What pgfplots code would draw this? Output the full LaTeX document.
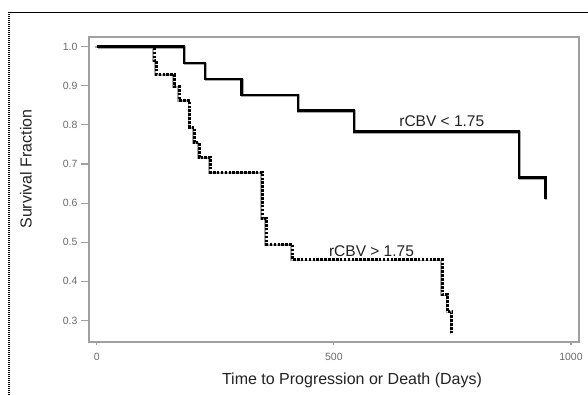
\documentclass[border=0pt]{standalone}
\usepackage{pgfplots}
\pgfplotsset{compat=1.18}
\usepackage{fontspec}
\setmainfont{Liberation Sans}
\definecolor{axgray}{HTML}{A0A0A0}
\definecolor{tickgray}{HTML}{6A6A6A}
\definecolor{labgray}{HTML}{222222}
\definecolor{shadow}{HTML}{A8A8A8}
\begin{document}
\begin{tikzpicture}
\begin{axis}[
  at={(89bp,53bp)}, anchor=south west,
  scale only axis, width=490bp, height=305bp,
  xmin=-16.2, xmax=1016.9, ymin=0.2448, ymax=1.0248,
  axis line style={axgray, line width=1.3bp},
  xtick={0,500,1000}, ytick={0.3,0.4,0.5,0.6,0.7,0.8,0.9,1.0},
  xtick pos=bottom, ytick pos=left, tick align=outside,
  major tick length=8bp,
  x tick style={/pgfplots/major tick length=3.5bp},
  tick style={axgray, line width=1.1bp},
  /pgf/number format/assume math mode=true,
  /pgf/number format/set thousands separator={},
  yticklabel style={/pgf/number format/fixed, /pgf/number format/precision=1, /pgf/number format/fixed zerofill, font=\fontsize{10.5bp}{12bp}\selectfont, text=tickgray},
  xticklabel style={font=\fontsize{10.5bp}{12bp}\selectfont, text=tickgray},
  clip=false,
]
% shadows
\addplot[const plot, shadow, line width=2.4bp, transform canvas={xshift=0.9bp,yshift=-0.9bp}] coordinates {
(0,1.0) (184,0.958) (228,0.917) (305.5,0.877) (424,0.837) (542,0.783) (890,0.665) (946,0.61)};
\addplot[const plot, shadow, line width=1.6bp, transform canvas={xshift=-1.3bp,yshift=-0.6bp}] coordinates {
(0,1.0) (121,0.965) (126,0.929) (164,0.898) (174,0.862) (196.6,0.794) (205.7,0.755) (216,0.717) (240,0.679) (349,0.561) (358,0.495) (413,0.455) (729,0.365) (740,0.322) (749,0.267)};
% curves
\addplot[const plot, black, line width=2.5bp] coordinates {
(0,1.0) (184,0.958) (228,0.917) (305.5,0.877) (424,0.837) (542,0.783) (890,0.665) (946,0.61)};
\addplot[const plot, black, line width=3bp, dash pattern=on 2.6bp off 1.3bp] coordinates {
(0,1.0) (121,0.965) (126,0.929) (164,0.898) (174,0.862) (196.6,0.794) (205.7,0.755) (216,0.717) (240,0.679) (349,0.561) (358,0.495) (413,0.455) (729,0.365) (740,0.322) (749,0.267)};
\node[anchor=base, font=\fontsize{15.5bp}{18bp}\selectfont, text=labgray, inner sep=0pt] at (axis cs:727.6,0.7954) {rCBV < 1.75};
\node[anchor=base, font=\fontsize{15.5bp}{18bp}\selectfont, text=labgray, inner sep=0pt] at (axis cs:579.4,0.463) {rCBV > 1.75};
\end{axis}
\node[anchor=base, font=\fontsize{16bp}{18bp}\selectfont, text=labgray, inner sep=0pt] at (352bp,10.7bp) {Time to Progression or Death (Days)};
\node[anchor=base, rotate=90, font=\fontsize{16bp}{18bp}\selectfont, text=labgray, inner sep=0pt] at (31.7bp,226bp) {Survival Fraction};
\draw[dash pattern=on 1.3bp off 0.7bp, line width=1.3bp] (9bp,0bp) -- (9bp,382.7bp) -- (588bp,382.7bp);
\pgfresetboundingbox
\path[use as bounding box] (0bp,0bp) rectangle (588bp,395bp);
\end{tikzpicture}
\end{document}
